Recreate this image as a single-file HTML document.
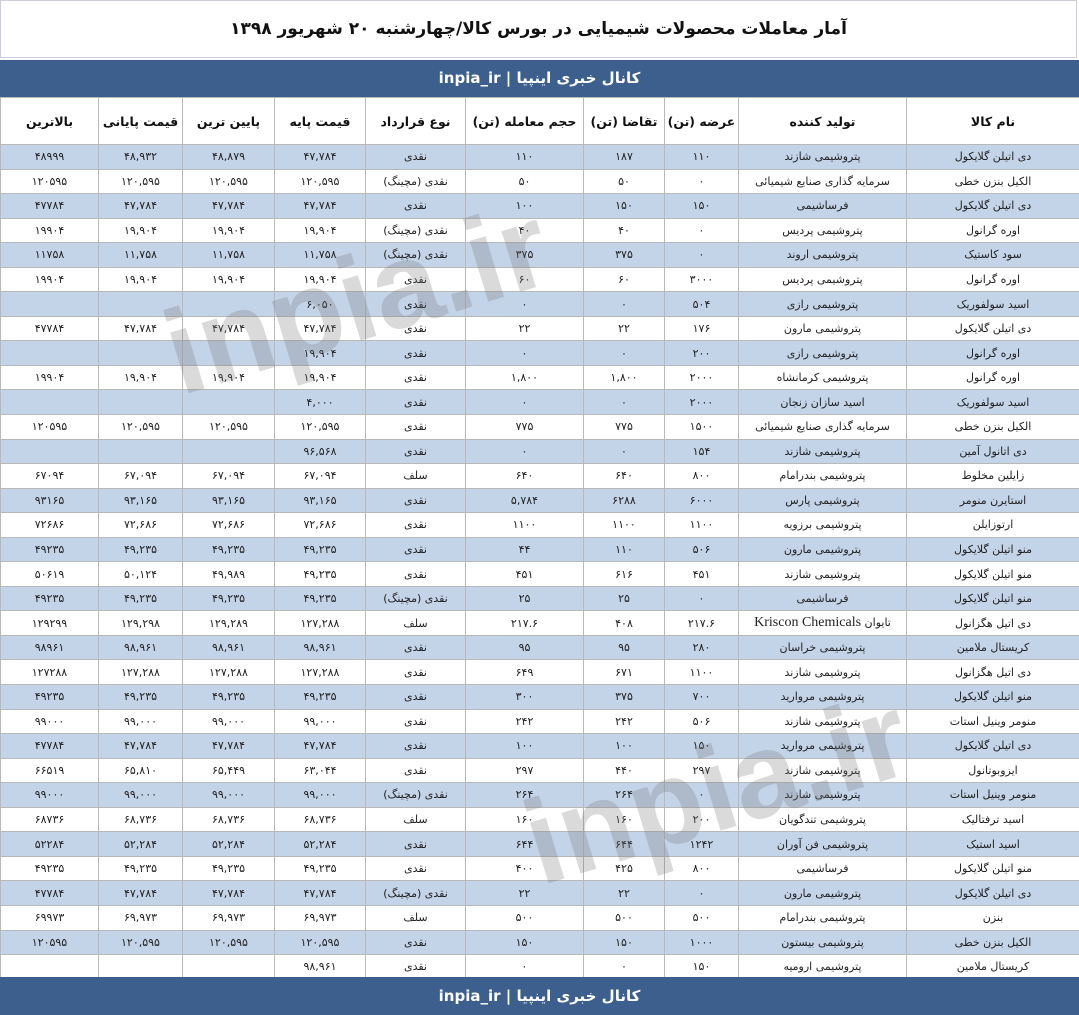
<!DOCTYPE html>
<html><head><meta charset="utf-8"><style>
body{margin:0;width:1079px;height:1015px;background:#fff;overflow:hidden;position:relative;font-family:"DejaVu Sans","Liberation Sans",sans-serif;}
.title{position:absolute;left:0;top:0;width:1077px;height:58px;border:1px solid #ccd;box-sizing:border-box;text-align:center;line-height:56px;font-size:17px;font-weight:bold;direction:rtl;color:#111;}
.bar{position:absolute;left:0;width:1079px;background:#3c5f8e;color:#fff;text-align:center;font-size:15px;font-weight:bold;direction:rtl;}
table{position:absolute;left:0;top:97px;width:1079px;border-collapse:collapse;table-layout:fixed;direction:rtl;}
td{border:1px solid #b8b8b8;text-align:center;font-size:11px;height:23.55px;padding:0;white-space:nowrap;overflow:hidden;color:#222;}
tr.h td{height:46px;font-weight:bold;font-size:12.5px;color:#111;}
tr:nth-child(even) td{background:#c3d3e8;}
tr.h td{background:#fff !important;}
.wm{position:absolute;font-family:"Liberation Sans",sans-serif;font-weight:bold;font-size:120px;color:rgba(120,120,120,0.27);transform:rotate(-17deg);}
</style></head><body>
<div class="title">آمار معاملات محصولات شیمیایی در بورس کالا/چهارشنبه ۲۰ شهریور ۱۳۹۸</div>
<div class="bar" style="top:60px;height:37px;line-height:37px;">کانال خبری اینپیا | inpia_ir</div>
<table>
<colgroup><col style="width:173px"><col style="width:168px"><col style="width:74px"><col style="width:81px"><col style="width:118px"><col style="width:100px"><col style="width:91px"><col style="width:92px"><col style="width:84px"><col style="width:98px"></colgroup>
<tr class="h"><td>نام کالا</td><td>تولید کننده</td><td>عرضه (تن)</td><td>تقاضا (تن)</td><td>حجم معامله (تن)</td><td>نوع قرارداد</td><td>قیمت پایه</td><td>پایین ترین</td><td>قیمت پایانی</td><td>بالاترین</td></tr>
<tr><td>دی اتیلن گلایکول</td><td>پتروشیمی شازند</td><td>۱۱۰</td><td>۱۸۷</td><td>۱۱۰</td><td>نقدی</td><td>۴۷,۷۸۴</td><td>۴۸,۸۷۹</td><td>۴۸,۹۳۲</td><td>۴۸۹۹۹</td></tr>
<tr><td>الکیل بنزن خطی</td><td>سرمایه گذاری صنایع شیمیائی</td><td>۰</td><td>۵۰</td><td>۵۰</td><td>نقدی (مچینگ)</td><td>۱۲۰,۵۹۵</td><td>۱۲۰,۵۹۵</td><td>۱۲۰,۵۹۵</td><td>۱۲۰۵۹۵</td></tr>
<tr><td>دی اتیلن گلایکول</td><td>فرساشیمی</td><td>۱۵۰</td><td>۱۵۰</td><td>۱۰۰</td><td>نقدی</td><td>۴۷,۷۸۴</td><td>۴۷,۷۸۴</td><td>۴۷,۷۸۴</td><td>۴۷۷۸۴</td></tr>
<tr><td>اوره گرانول</td><td>پتروشیمی پردیس</td><td>۰</td><td>۴۰</td><td>۴۰</td><td>نقدی (مچینگ)</td><td>۱۹,۹۰۴</td><td>۱۹,۹۰۴</td><td>۱۹,۹۰۴</td><td>۱۹۹۰۴</td></tr>
<tr><td>سود کاستیک</td><td>پتروشیمی اروند</td><td>۰</td><td>۳۷۵</td><td>۳۷۵</td><td>نقدی (مچینگ)</td><td>۱۱,۷۵۸</td><td>۱۱,۷۵۸</td><td>۱۱,۷۵۸</td><td>۱۱۷۵۸</td></tr>
<tr><td>اوره گرانول</td><td>پتروشیمی پردیس</td><td>۳۰۰۰</td><td>۶۰</td><td>۶۰</td><td>نقدی</td><td>۱۹,۹۰۴</td><td>۱۹,۹۰۴</td><td>۱۹,۹۰۴</td><td>۱۹۹۰۴</td></tr>
<tr><td>اسید سولفوریک</td><td>پتروشیمی رازی</td><td>۵۰۴</td><td>۰</td><td>۰</td><td>نقدی</td><td>۶,۰۵۰</td><td></td><td></td><td></td></tr>
<tr><td>دی اتیلن گلایکول</td><td>پتروشیمی مارون</td><td>۱۷۶</td><td>۲۲</td><td>۲۲</td><td>نقدی</td><td>۴۷,۷۸۴</td><td>۴۷,۷۸۴</td><td>۴۷,۷۸۴</td><td>۴۷۷۸۴</td></tr>
<tr><td>اوره گرانول</td><td>پتروشیمی رازی</td><td>۲۰۰</td><td>۰</td><td>۰</td><td>نقدی</td><td>۱۹,۹۰۴</td><td></td><td></td><td></td></tr>
<tr><td>اوره گرانول</td><td>پتروشیمی کرمانشاه</td><td>۲۰۰۰</td><td>۱,۸۰۰</td><td>۱,۸۰۰</td><td>نقدی</td><td>۱۹,۹۰۴</td><td>۱۹,۹۰۴</td><td>۱۹,۹۰۴</td><td>۱۹۹۰۴</td></tr>
<tr><td>اسید سولفوریک</td><td>اسید سازان زنجان</td><td>۲۰۰۰</td><td>۰</td><td>۰</td><td>نقدی</td><td>۴,۰۰۰</td><td></td><td></td><td></td></tr>
<tr><td>الکیل بنزن خطی</td><td>سرمایه گذاری صنایع شیمیائی</td><td>۱۵۰۰</td><td>۷۷۵</td><td>۷۷۵</td><td>نقدی</td><td>۱۲۰,۵۹۵</td><td>۱۲۰,۵۹۵</td><td>۱۲۰,۵۹۵</td><td>۱۲۰۵۹۵</td></tr>
<tr><td>دی اتانول آمین</td><td>پتروشیمی شازند</td><td>۱۵۴</td><td>۰</td><td>۰</td><td>نقدی</td><td>۹۶,۵۶۸</td><td></td><td></td><td></td></tr>
<tr><td>زایلین مخلوط</td><td>پتروشیمی بندرامام</td><td>۸۰۰</td><td>۶۴۰</td><td>۶۴۰</td><td>سلف</td><td>۶۷,۰۹۴</td><td>۶۷,۰۹۴</td><td>۶۷,۰۹۴</td><td>۶۷۰۹۴</td></tr>
<tr><td>استایرن منومر</td><td>پتروشیمی پارس</td><td>۶۰۰۰</td><td>۶۲۸۸</td><td>۵,۷۸۴</td><td>نقدی</td><td>۹۳,۱۶۵</td><td>۹۳,۱۶۵</td><td>۹۳,۱۶۵</td><td>۹۳۱۶۵</td></tr>
<tr><td>ارتوزایلن</td><td>پتروشیمی برزویه</td><td>۱۱۰۰</td><td>۱۱۰۰</td><td>۱۱۰۰</td><td>نقدی</td><td>۷۲,۶۸۶</td><td>۷۲,۶۸۶</td><td>۷۲,۶۸۶</td><td>۷۲۶۸۶</td></tr>
<tr><td>منو اتیلن گلایکول</td><td>پتروشیمی مارون</td><td>۵۰۶</td><td>۱۱۰</td><td>۴۴</td><td>نقدی</td><td>۴۹,۲۳۵</td><td>۴۹,۲۳۵</td><td>۴۹,۲۳۵</td><td>۴۹۲۳۵</td></tr>
<tr><td>منو اتیلن گلایکول</td><td>پتروشیمی شازند</td><td>۴۵۱</td><td>۶۱۶</td><td>۴۵۱</td><td>نقدی</td><td>۴۹,۲۳۵</td><td>۴۹,۹۸۹</td><td>۵۰,۱۲۴</td><td>۵۰۶۱۹</td></tr>
<tr><td>منو اتیلن گلایکول</td><td>فرساشیمی</td><td>۰</td><td>۲۵</td><td>۲۵</td><td>نقدی (مچینگ)</td><td>۴۹,۲۳۵</td><td>۴۹,۲۳۵</td><td>۴۹,۲۳۵</td><td>۴۹۲۳۵</td></tr>
<tr><td>دی اتیل هگزانول</td><td>تایوان <span style="font-family:'Liberation Serif',serif;font-size:14px">Kriscon Chemicals</span></td><td>۲۱۷.۶</td><td>۴۰۸</td><td>۲۱۷.۶</td><td>سلف</td><td>۱۲۷,۲۸۸</td><td>۱۲۹,۲۸۹</td><td>۱۲۹,۲۹۸</td><td>۱۲۹۲۹۹</td></tr>
<tr><td>کریستال ملامین</td><td>پتروشیمی خراسان</td><td>۲۸۰</td><td>۹۵</td><td>۹۵</td><td>نقدی</td><td>۹۸,۹۶۱</td><td>۹۸,۹۶۱</td><td>۹۸,۹۶۱</td><td>۹۸۹۶۱</td></tr>
<tr><td>دی اتیل هگزانول</td><td>پتروشیمی شازند</td><td>۱۱۰۰</td><td>۶۷۱</td><td>۶۴۹</td><td>نقدی</td><td>۱۲۷,۲۸۸</td><td>۱۲۷,۲۸۸</td><td>۱۲۷,۲۸۸</td><td>۱۲۷۲۸۸</td></tr>
<tr><td>منو اتیلن گلایکول</td><td>پتروشیمی مروارید</td><td>۷۰۰</td><td>۳۷۵</td><td>۳۰۰</td><td>نقدی</td><td>۴۹,۲۳۵</td><td>۴۹,۲۳۵</td><td>۴۹,۲۳۵</td><td>۴۹۲۳۵</td></tr>
<tr><td>منومر وینیل استات</td><td>پتروشیمی شازند</td><td>۵۰۶</td><td>۲۴۲</td><td>۲۴۲</td><td>نقدی</td><td>۹۹,۰۰۰</td><td>۹۹,۰۰۰</td><td>۹۹,۰۰۰</td><td>۹۹۰۰۰</td></tr>
<tr><td>دی اتیلن گلایکول</td><td>پتروشیمی مروارید</td><td>۱۵۰</td><td>۱۰۰</td><td>۱۰۰</td><td>نقدی</td><td>۴۷,۷۸۴</td><td>۴۷,۷۸۴</td><td>۴۷,۷۸۴</td><td>۴۷۷۸۴</td></tr>
<tr><td>ایزوبوتانول</td><td>پتروشیمی شازند</td><td>۲۹۷</td><td>۴۴۰</td><td>۲۹۷</td><td>نقدی</td><td>۶۳,۰۴۴</td><td>۶۵,۴۴۹</td><td>۶۵,۸۱۰</td><td>۶۶۵۱۹</td></tr>
<tr><td>منومر وینیل استات</td><td>پتروشیمی شازند</td><td>۰</td><td>۲۶۴</td><td>۲۶۴</td><td>نقدی (مچینگ)</td><td>۹۹,۰۰۰</td><td>۹۹,۰۰۰</td><td>۹۹,۰۰۰</td><td>۹۹۰۰۰</td></tr>
<tr><td>اسید ترفتالیک</td><td>پتروشیمی تندگویان</td><td>۲۰۰</td><td>۱۶۰</td><td>۱۶۰</td><td>سلف</td><td>۶۸,۷۳۶</td><td>۶۸,۷۳۶</td><td>۶۸,۷۳۶</td><td>۶۸۷۳۶</td></tr>
<tr><td>اسید استیک</td><td>پتروشیمی فن آوران</td><td>۱۲۴۲</td><td>۶۴۴</td><td>۶۴۴</td><td>نقدی</td><td>۵۲,۲۸۴</td><td>۵۲,۲۸۴</td><td>۵۲,۲۸۴</td><td>۵۲۲۸۴</td></tr>
<tr><td>منو اتیلن گلایکول</td><td>فرساشیمی</td><td>۸۰۰</td><td>۴۲۵</td><td>۴۰۰</td><td>نقدی</td><td>۴۹,۲۳۵</td><td>۴۹,۲۳۵</td><td>۴۹,۲۳۵</td><td>۴۹۲۳۵</td></tr>
<tr><td>دی اتیلن گلایکول</td><td>پتروشیمی مارون</td><td>۰</td><td>۲۲</td><td>۲۲</td><td>نقدی (مچینگ)</td><td>۴۷,۷۸۴</td><td>۴۷,۷۸۴</td><td>۴۷,۷۸۴</td><td>۴۷۷۸۴</td></tr>
<tr><td>بنزن</td><td>پتروشیمی بندرامام</td><td>۵۰۰</td><td>۵۰۰</td><td>۵۰۰</td><td>سلف</td><td>۶۹,۹۷۳</td><td>۶۹,۹۷۳</td><td>۶۹,۹۷۳</td><td>۶۹۹۷۳</td></tr>
<tr><td>الکیل بنزن خطی</td><td>پتروشیمی بیستون</td><td>۱۰۰۰</td><td>۱۵۰</td><td>۱۵۰</td><td>نقدی</td><td>۱۲۰,۵۹۵</td><td>۱۲۰,۵۹۵</td><td>۱۲۰,۵۹۵</td><td>۱۲۰۵۹۵</td></tr>
<tr><td>کریستال ملامین</td><td>پتروشیمی ارومیه</td><td>۱۵۰</td><td>۰</td><td>۰</td><td>نقدی</td><td>۹۸,۹۶۱</td><td></td><td></td><td></td></tr>
</table>
<div class="wm" style="left:160px;top:230px;">inpia.ir</div>
<div class="wm" style="left:520px;top:720px;">inpia.ir</div>
<div class="bar" style="top:977px;height:38px;line-height:38px;">کانال خبری اینپیا | inpia_ir</div>
</body></html>
